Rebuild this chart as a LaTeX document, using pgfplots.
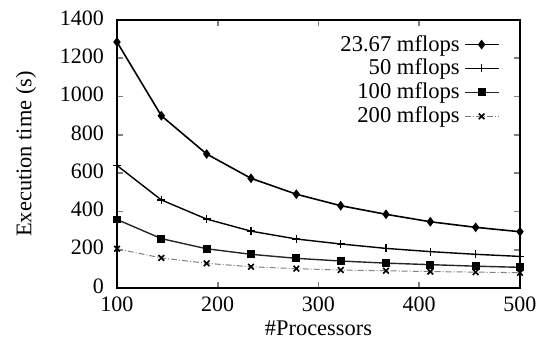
\documentclass[border=0pt]{standalone}
\usepackage{pgfplots}
\pgfplotsset{compat=1.18}
\usepackage{fontspec}
\setmainfont{Liberation Serif}
\begin{document}
\begin{tikzpicture}
\path[use as bounding box] (-58.5pt,-30.5pt) rectangle (211.5pt,144pt);
\begin{axis}[
  at={(0,0)}, anchor=south west,
  scale only axis, width=201.5pt, height=134pt,
  xmin=100, xmax=500, ymin=0, ymax=1400,
  xtick={100,200,300,400,500},
  ytick={0,200,400,600,800,1000,1200,1400},
  tick align=inside, major tick length=3pt,
  axis line style={line width=1pt},
  tick style={line width=0.8pt},
  xlabel={\#Processors}, ylabel={Execution time (s)},
  xlabel style={yshift=2.5pt}, ylabel style={yshift=5pt},
  /pgf/number format/assume math mode=true,
  /pgf/number format/1000 sep={},
  ticklabel style={font=\fontsize{11}{12}\selectfont},
  yticklabel style={xshift=-3pt, yshift=1pt},
  xticklabel style={yshift=-1pt},
  label style={font=\fontsize{11.2}{12}\selectfont},
  legend style={draw=none, fill=none, at={(0.965,0.975)}, anchor=north east,
    font=\fontsize{11.3}{11.5}\selectfont, row sep=-1.5pt},
  legend cell align=right, legend plot pos=right,
]
\addplot[black, line width=0.8pt, mark=diamond*, mark size=1.8pt] coordinates {
(100,1285) (144,900) (189,700) (233,573) (278,490) (322,430) (367,385) (411,346) (456,317) (500,294)};
\addlegendentry{23.67 mflops}
\addplot[black, line width=0.7pt, mark=+, mark size=2pt] coordinates {
(100,640) (144,460) (189,360) (233,297) (278,256) (322,230) (367,207) (411,190) (456,176) (500,165)};
\addlegendentry{50 mflops}
\addplot[black!85, line width=0.7pt, mark=square*, mark size=1.6pt, mark options={black}] coordinates {
(100,358) (144,258) (189,205) (233,176) (278,155) (322,141) (367,130) (411,122) (456,114) (500,108)};
\addlegendentry{100 mflops}
\addplot[gray, line width=0.5pt, densely dash dot, mark=x, mark size=2pt, mark options={black, solid, line width=0.8pt}] coordinates {
(100,205) (144,157) (189,129) (233,111) (278,101) (322,94) (367,90) (411,86) (456,83) (500,80)};
\addlegendentry{200 mflops}
\end{axis}
\end{tikzpicture}
\end{document}
